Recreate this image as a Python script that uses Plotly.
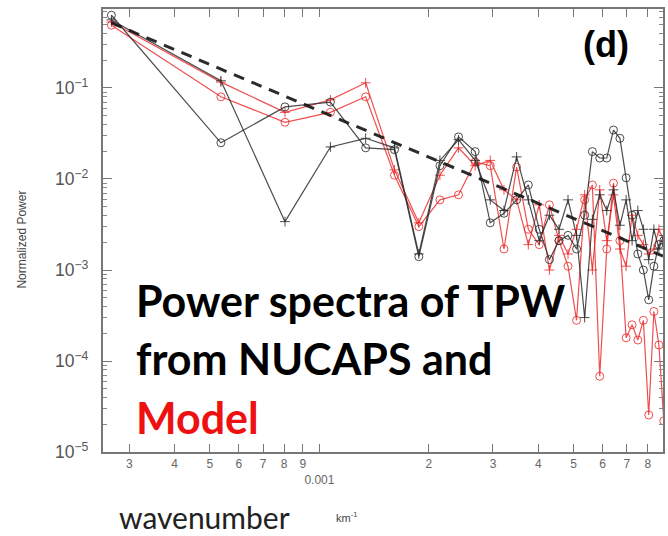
import plotly.graph_objects as go

# wavenumber (km^-1)
wavenumber = [0.000268, 0.000536, 0.000804, 0.001072, 0.00134, 0.001608, 0.001876,
              0.002144, 0.002412, 0.00268, 0.002948, 0.003216, 0.003484, 0.003752,
              0.00402, 0.004288, 0.004556, 0.004824, 0.005092, 0.00536, 0.005628,
              0.005896, 0.006164, 0.006432, 0.0067, 0.006968, 0.007236, 0.007504,
              0.007772, 0.00804, 0.008308, 0.008576, 0.008844]

nucaps_circle = [0.63, 0.025, 0.062, 0.070, 0.022, 0.021, 0.0014, 0.014, 0.029, 0.020,
                 0.0033, 0.0042, 0.0059, 0.0086, 0.0028, 0.0013, 0.0021, 0.0024, 0.0017,
                 0.0040, 0.020, 0.017, 0.017, 0.0345, 0.028, 0.0103, 0.0040, 0.0015,
                 0.0010, 0.00047, 0.0011, 0.0019, 0.0021]

nucaps_plus = [0.56, 0.12, 0.0034, 0.0225, 0.028, 0.022, 0.0015, 0.016, 0.027, 0.016,
               0.0059, 0.0045, 0.0175, 0.0059, 0.0021, 0.0040, 0.0028, 0.0059, 0.0024,
               0.0003, 0.0036, 0.0067, 0.0045, 0.0076, 0.0031, 0.0059, 0.0021, 0.0045,
               0.0028, 0.0013, 0.0028, 0.0017, 0.0024]

model_circle = [0.49, 0.080, 0.042, 0.054, 0.080, 0.011, 0.0030, 0.0059, 0.0067, 0.0154,
                0.014, 0.0017, 0.0135, 0.0028, 0.0019, 0.0052, 0.0021, 0.0011, 0.00028,
                0.0059, 0.0086, 0.000068, 0.0017, 0.009, 0.0021, 0.00018, 0.00025,
                0.00017, 0.00028, 0.0000255, 0.00035, 0.00015, 0.000022]

model_plus = [0.53, 0.116, 0.054, 0.074, 0.114, 0.0126, 0.0033, 0.011, 0.022, 0.014,
              0.016, 0.0076, 0.0059, 0.0019, 0.0052, 0.0010, 0.0024, 0.0015, 0.0028,
              0.0067, 0.0010, 0.0076, 0.0021, 0.0067, 0.0017, 0.0011, 0.0040, 0.0024,
              0.0019, 0.0015, 0.0017, 0.0028, 0.0021]

# k^-5/3 reference line end points
ref_k = [0.000268, 0.0088]
ref_p = [0.52, 0.00142]

x_tickvals = [0.0003, 0.0004, 0.0005, 0.0006, 0.0007, 0.0008, 0.0009, 0.001,
              0.002, 0.003, 0.004, 0.005, 0.006, 0.007, 0.008]
x_ticktext = ["3", "4", "5", "6", "7", "8", "9", "<br>0.001",
              "2", "3", "4", "5", "6", "7", "8"]

BLACK = "rgba(45,45,45,0.85)"
RED = "rgba(235,35,35,0.8)"

fig = go.Figure()

def add(y, color, symbol, size):
    fig.add_trace(go.Scatter(
        x=wavenumber, y=y, mode="lines+markers",
        line=dict(color=color, width=1.2),
        marker=dict(symbol=symbol, size=size, color=color,
                    line=dict(color=color, width=1)),
        showlegend=False))

add(model_circle, RED, "circle-open", 8)
add(model_plus, RED, "cross-thin-open", 7)
add(nucaps_circle, BLACK, "circle-open", 8)
add(nucaps_plus, BLACK, "cross-thin-open", 7)

fig.add_trace(go.Scatter(x=ref_k, y=ref_p, mode="lines",
                         line=dict(color="rgba(20,20,20,0.9)", width=3, dash="11px,8px"),
                         showlegend=False))

fig.update_layout(
    width=668, height=536,
    margin=dict(l=103, r=3, t=9, b=84),
    paper_bgcolor="white", plot_bgcolor="white",
    font=dict(family="Liberation Sans, Arial", color="#555"),
)

fig.update_xaxes(
    type="log", range=[-3.595, -2.0555],
    tickvals=x_tickvals, ticktext=x_ticktext, tickangle=0,
    ticks="inside", ticklen=8, tickcolor="#777", tickwidth=1,
    tickfont=dict(size=12, color="#666"),
    showline=True, linecolor="#777", linewidth=1.5, mirror="ticks",
    showgrid=False, zeroline=False,
)
fig.update_yaxes(
    type="log", range=[-5.0, -0.132],
    dtick=1, exponentformat="power",
    ticks="inside", ticklen=9, tickcolor="#777", tickwidth=1,
    tickfont=dict(size=14, color="#555"),
    ticklabelstandoff=10,
    minor=dict(dtick="D1", ticks="inside", ticklen=4, tickcolor="#888", showgrid=False),
    showline=True, linecolor="#777", linewidth=1.5, mirror="ticks",
    showgrid=False, zeroline=False,
)

def ann(text, x, y, size, color, bold=False, family="Lato", xanchor="left", angle=0):
    fig.add_annotation(text=f"<b>{text}</b>" if bold else text,
                       xref="paper", yref="paper", x=x, y=y,
                       xanchor=xanchor, yanchor="middle", showarrow=False,
                       textangle=angle,
                       font=dict(size=size, color=color, family=family))

ann("Power spectra of TPW", 0.056, 0.343, 43, "black", bold=True)
ann("from NUCAPS and", 0.056, 0.210, 43, "black", bold=True)
ann("Model", 0.056, 0.078, 43, "#ee1111", bold=True)
ann("(d)", 0.898, 0.92, 36, "black", bold=True, family="Liberation Sans", xanchor="center")
ann("Normalized Power", -0.145, 0.479, 12, "#444", family="Liberation Sans",
    xanchor="center", angle=-90)
ann("wavenumber", 0.182, -0.146, 30, "#222", family="Lato", xanchor="center")
ann("km<sup>-1</sup>", 0.435, -0.146, 11, "#444", family="Liberation Sans", xanchor="center")

fig.write_html("out.html")
